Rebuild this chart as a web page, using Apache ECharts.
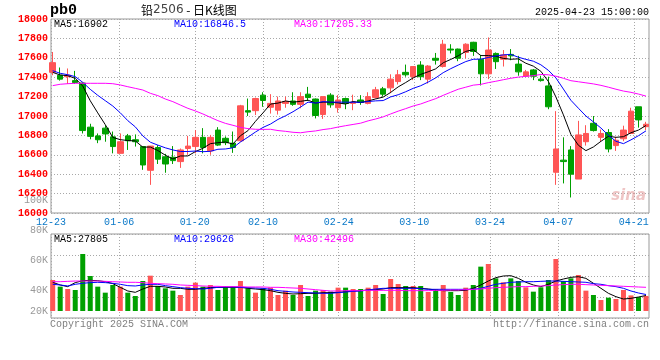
<!DOCTYPE html>
<html><head><meta charset="utf-8">
<script src="https://cdn.jsdelivr.net/npm/echarts/dist/echarts.min.js"></script>
<style>html,body{margin:0;padding:0;background:#fff}#c{width:660px;height:360px}</style>
</head><body><div id="c"></div>
<script>
const dates = ['12-23','12-24','12-25','12-26','12-27','12-30','12-31','01-02','01-03','01-06',
'01-07','01-08','01-09','01-10','01-13','01-14','01-15','01-16','01-17','01-20',
'01-21','01-22','01-23','01-24','01-27','02-05','02-06','02-07','02-10','02-11',
'02-12','02-13','02-14','02-17','02-18','02-19','02-20','02-21','02-24','02-25',
'02-26','02-27','02-28','03-03','03-04','03-05','03-06','03-07','03-10','03-11',
'03-12','03-13','03-14','03-17','03-18','03-19','03-20','03-21','03-24','03-25',
'03-26','03-27','03-28','03-31','04-01','04-02','04-03','04-07','04-08','04-09',
'04-10','04-11','04-14','04-15','04-16','04-17','04-18','04-21','04-22','04-23'];
const tickDates = ['12-23','01-06','01-20','02-10','02-24','03-10','03-24','04-07','04-21'];

const opens = [17450,17420,17405,17365,17340,16885,16795,16875,16785,16615,
16795,16755,16685,16440,16675,16580,16575,16530,16665,16685,
16780,16640,16855,16770,16720,16745,17055,17055,17215,17090,
17060,17130,17155,17120,17225,17175,17015,17215,17085,17180,
17130,17165,17130,17190,17280,17290,17355,17450,17405,17525,
17380,17595,17510,17690,17690,17655,17760,17585,17435,17645,
17585,17635,17535,17410,17475,17380,17310,16420,16545,16650,
16350,16735,16925,16780,16830,16695,16765,16820,17095,16890];
const closes = [17550,17380,17420,17345,16850,16790,16755,16815,16685,16735,
16745,16735,16495,16690,16555,16505,16540,16650,16690,16780,
16675,16780,16700,16725,16675,17105,17040,17180,17160,17130,
17155,17150,17120,17200,17190,17005,17200,17115,17165,17130,
17140,17140,17200,17270,17225,17380,17425,17425,17510,17405,
17515,17575,17740,17680,17595,17740,17665,17435,17680,17560,
17630,17620,17455,17455,17410,17365,17095,16660,16530,16400,
16805,16820,16850,16820,16660,16750,16855,17050,16960,16915];
const lows = [17420,17365,17330,17330,16820,16760,16720,16735,16615,16615,
16650,16685,16445,16290,16505,16415,16505,16465,16600,16615,
16615,16600,16690,16700,16620,16735,17000,17010,17095,17025,
17015,17085,17105,17080,17155,16975,16970,17085,17035,17070,
17060,17115,17120,17180,17200,17235,17325,17405,17370,17370,
17335,17530,17500,17645,17565,17595,17620,17315,17380,17485,
17510,17575,17415,17405,17370,17355,17070,16290,16305,16160,
16350,16695,16840,16735,16625,16640,16740,16815,16880,16855];
const highs = [17660,17500,17490,17465,17345,16920,16820,16905,16840,16820,
16815,16810,16690,16690,16700,16610,16690,16665,16795,16855,
16875,16805,16885,16790,16840,17115,17180,17190,17245,17225,
17200,17200,17245,17245,17300,17180,17200,17235,17215,17190,
17220,17215,17245,17300,17300,17430,17475,17530,17510,17565,
17525,17650,17785,17740,17695,17750,17765,17630,17810,17655,
17680,17690,17620,17475,17485,17415,17405,17050,16780,16690,
16950,16905,17000,16860,16865,16785,16900,17085,17095,16940];

const ma5 = [17450,17423,17416,17388,17309,17157,17032,16911,16779,16756,
16747,16743,16679,16680,16644,16596,16557,16588,16588,16633,
16667,16715,16725,16732,16711,16797,16849,16945,17032,17123,
17133,17155,17143,17151,17163,17133,17143,17142,17135,17123,
17150,17138,17155,17176,17195,17243,17300,17345,17393,17429,
17456,17486,17549,17583,17621,17666,17684,17623,17623,17616,
17594,17585,17589,17544,17514,17461,17356,17197,17012,16810,
16698,16643,16681,16739,16791,16780,16787,16827,16855,16902];
const ma10 = [17467,17440,17426,17406,17347,17275,17213,17158,17103,17033,
16952,16888,16795,16730,16700,16672,16650,16634,16634,16639,
16632,16636,16657,16660,16672,16732,16782,16835,16882,16917,
16965,17002,17044,17092,17143,17133,17149,17143,17143,17143,
17142,17141,17149,17156,17159,17197,17219,17250,17285,17312,
17350,17393,17447,17488,17525,17561,17585,17586,17603,17619,
17630,17635,17606,17584,17565,17528,17471,17393,17278,17162,
17080,17000,16939,16876,16801,16739,16715,16754,16797,16847];
const ma30 = [17313,17327,17333,17337,17337,17337,17337,17337,17333,17320,
17302,17285,17268,17234,17210,17175,17148,17113,17079,17052,
17021,16986,16952,16924,16904,16883,16870,16863,16862,16863,
16850,16842,16832,16827,16838,16846,16860,16870,16886,16900,
16913,16926,16950,16969,16991,17021,17050,17076,17103,17124,
17152,17179,17213,17245,17276,17297,17318,17326,17344,17358,
17374,17389,17401,17409,17416,17428,17425,17410,17389,17364,
17353,17342,17331,17316,17297,17276,17257,17244,17226,17205];

const volumes = [55600,43700,39500,37700,102300,62800,43700,32900,46700,43700,
32900,26900,53800,63400,44900,40700,36500,28700,43700,50900,
43700,46700,37700,43700,43700,53800,40700,32900,40700,41900,
28700,36500,28700,46700,26900,36500,37700,34700,41900,41900,
39500,39500,41900,46700,30500,57400,48500,44900,44900,44900,
34100,39500,46700,34100,28700,41900,46700,79600,84400,58600,
51500,58600,53800,42500,34700,42500,55600,93300,53800,58600,
64600,36500,28700,19700,23900,21500,37700,28000,25000,27000];
const volMa5 = [51500,46700,43700,50900,54400,55000,54400,52600,49100,42500,
35900,33500,39500,44300,44300,43100,40700,40700,38900,38900,
40700,41900,42500,42500,42500,42500,40700,39500,38300,36500,
33500,31700,30500,31100,31700,31700,32900,32900,33500,34700,
35900,36500,37700,38300,39500,41900,41900,41900,41900,40700,
39500,37700,36500,36500,36500,37100,40700,46700,53800,59800,
62800,63400,58600,51500,46700,43700,47900,53800,57400,60400,
61600,58600,49700,40700,31700,25700,21500,22700,25100,27805];
const volMa10 = [47900,46700,44900,47900,49700,50900,51500,50900,49700,47900,
45500,44900,46700,47900,47900,45500,43700,41900,40700,40100,
39500,40700,42500,43100,43100,42500,41900,41300,40700,38900,
36500,35300,34100,33500,32900,32300,31700,31700,32900,34100,
35300,35900,37700,39500,40700,40700,40700,40700,40700,40100,
38900,38900,38900,38900,38900,38900,38900,40700,44300,47900,
49700,51500,52100,52600,52600,53200,53800,53800,53200,52600,
52100,51500,49100,47900,45500,43700,40700,35900,32300,29626];
const volMa30 = [52600,52600,53200,53800,53800,53800,53800,53200,52600,52100,
51500,51500,50900,49700,49100,48500,47900,46700,46100,45500,
44900,44300,44300,43700,43700,43700,43100,43100,43100,42500,
42500,41900,41300,40700,39500,38300,37100,35900,35900,36500,
36500,36500,37100,37100,37100,37100,37100,36500,36500,36500,
36500,37100,37100,37700,37700,38300,38900,39500,40700,41900,
42500,43100,43700,43700,44300,44900,45500,46700,47300,47900,
47900,47300,46700,46100,45500,44900,44300,43700,43100,42496];

const priceTickStep = 200;
const volTickLabels = ['100K','80K','60K','40K','20K'];
const volTickY = [200, 230, 260, 290, 311];

const MONO = '"Liberation Mono","DejaVu Sans Mono",monospace';
const UP = '#ff5555', DOWN = '#00a000';
const GRIDC = '#a8a8a8';
const isTick = (i, v) => tickDates.indexOf(v) >= 0;

const chart = echarts.init(document.getElementById('c'), null, {renderer: 'canvas'});
const candleData = dates.map((d, i) => [opens[i], closes[i], lows[i], highs[i]]);
const volColor = p => closes[p.dataIndex] >= opens[p.dataIndex] ? UP : DOWN;
const dotted = {color: GRIDC, type: [1, 2], width: 1};

function txt(text, x, y, fill, font, align) {
  return {type: 'text', x: x, y: y, silent: true, z: 100,
    style: {text: text, fill: fill, font: font, textAlign: align || 'left', textVerticalAlign: 'middle',
      align: align || 'left', verticalAlign: 'middle'}};
}

const graphics = [
  txt('pb0', 50, 10, '#000', 'bold 15px ' + MONO),
  {type: 'text', x: 141, y: 10, silent: true, z: 100,
   style: {text: '{a|铅}{b|2506}{a| - 日K线图}', textVerticalAlign: 'middle', verticalAlign: 'middle',
     rich: {a: {fill: '#000', font: '12px "Noto Sans CJK SC"'}, b: {fill: '#444', font: '12px "DejaVu Sans"'}}}},
  txt('2025-04-23 15:00:00', 649, 12, '#000', '10px ' + MONO, 'right'),
  txt('MA5:' + ma5[ma5.length - 1], 54, 24, '#000', '10px ' + MONO),
  txt('MA10:16846.5', 174, 24, '#0000ff', '10px ' + MONO),
  txt('MA30:17205.33', 294, 24, '#ff00ff', '10px ' + MONO),
  txt('MA5:' + volMa5[volMa5.length - 1], 54, 239, '#000', '10px ' + MONO),
  txt('MA10:' + volMa10[volMa10.length - 1], 174, 239, '#0000ff', '10px ' + MONO),
  txt('MA30:' + volMa30[volMa30.length - 1], 294, 239, '#ff00ff', '10px ' + MONO),
  txt('Copyright 2025 SINA.COM', 50, 324, '#808080', '10px ' + MONO),
  txt('http://finance.sina.com.cn', 649, 324, '#808080', '10px ' + MONO, 'right'),
  txt('sina', 646, 196, 'rgba(225,150,150,0.55)', 'italic bold 15px "DejaVu Sans"', 'right')
];
volTickLabels.forEach((t, k) => graphics.push(txt(t, 48, volTickY[k], '#999', '10px ' + MONO, 'right')));

const catAxis = (gi, extra) => Object.assign({gridIndex: gi, type: 'category', data: dates, boundaryGap: false}, extra);

chart.setOption({
  animation: false,
  backgroundColor: '#fff',
  grid: [
    {left: 51, top: 19, width: 598, height: 194, show: true, borderColor: '#999', borderWidth: 1},
    {left: 52.7, top: 19, width: 593.3, height: 194},
    {left: 51, top: 234, width: 598, height: 84, show: true, borderColor: '#999', borderWidth: 1},
    {left: 52.7, top: 234, width: 593.3, height: 77}
  ],
  xAxis: [
    catAxis(0, {axisLine: {show: false}, axisTick: {show: false},
      axisLabel: {interval: isTick, color: '#0a78c8', fontFamily: MONO, fontSize: 10, margin: 4},
      splitLine: {show: true, interval: isTick, lineStyle: dotted}}),
    catAxis(1, {show: false}),
    catAxis(2, {axisLine: {show: false}, axisTick: {show: false}, axisLabel: {show: false},
      splitLine: {show: true, interval: isTick, lineStyle: dotted}}),
    catAxis(3, {show: false})
  ],
  yAxis: [
    {gridIndex: 0, type: 'value', min: 16000, max: 18000, interval: priceTickStep,
     axisLine: {show: false}, axisTick: {show: false},
     axisLabel: {color: '#ff0000', fontWeight: 'bold', fontFamily: MONO, fontSize: 10, margin: 3,
       formatter: v => String(v)},
     splitLine: {lineStyle: dotted}},
    {gridIndex: 1, type: 'value', min: 16000, max: 18000, show: false, splitLine: {show: false}},
    {gridIndex: 2, type: 'value', min: 0, max: 4, interval: 1, axisLine: {show: false}, axisTick: {show: false},
     axisLabel: {show: false}, splitLine: {lineStyle: dotted}},
    {gridIndex: 3, type: 'value', min: 0, max: 138200, show: false, splitLine: {show: false}}
  ],
  series: [
    {type: 'candlestick', xAxisIndex: 1, yAxisIndex: 1, data: candleData, barWidth: 6, clip: false,
     itemStyle: {color: UP, color0: DOWN, borderColor: UP, borderColor0: DOWN, borderWidth: 1}},
    {type: 'line', xAxisIndex: 1, yAxisIndex: 1, data: ma5, symbol: 'none', z: 5, lineStyle: {color: '#000', width: 1}},
    {type: 'line', xAxisIndex: 1, yAxisIndex: 1, data: ma10, symbol: 'none', z: 5, lineStyle: {color: '#0000ff', width: 1}},
    {type: 'line', xAxisIndex: 1, yAxisIndex: 1, data: ma30, symbol: 'none', z: 5, lineStyle: {color: '#ff00ff', width: 1}},
    {type: 'bar', xAxisIndex: 3, yAxisIndex: 3, data: volumes, barWidth: 5, itemStyle: {color: volColor}},
    {type: 'line', xAxisIndex: 3, yAxisIndex: 3, data: volMa5, symbol: 'none', z: 5, lineStyle: {color: '#000', width: 1}},
    {type: 'line', xAxisIndex: 3, yAxisIndex: 3, data: volMa10, symbol: 'none', z: 5, lineStyle: {color: '#0000ff', width: 1}},
    {type: 'line', xAxisIndex: 3, yAxisIndex: 3, data: volMa30, symbol: 'none', z: 5, lineStyle: {color: '#ff00ff', width: 1}}
  ],
  graphic: graphics
});
</script>
</body></html>
